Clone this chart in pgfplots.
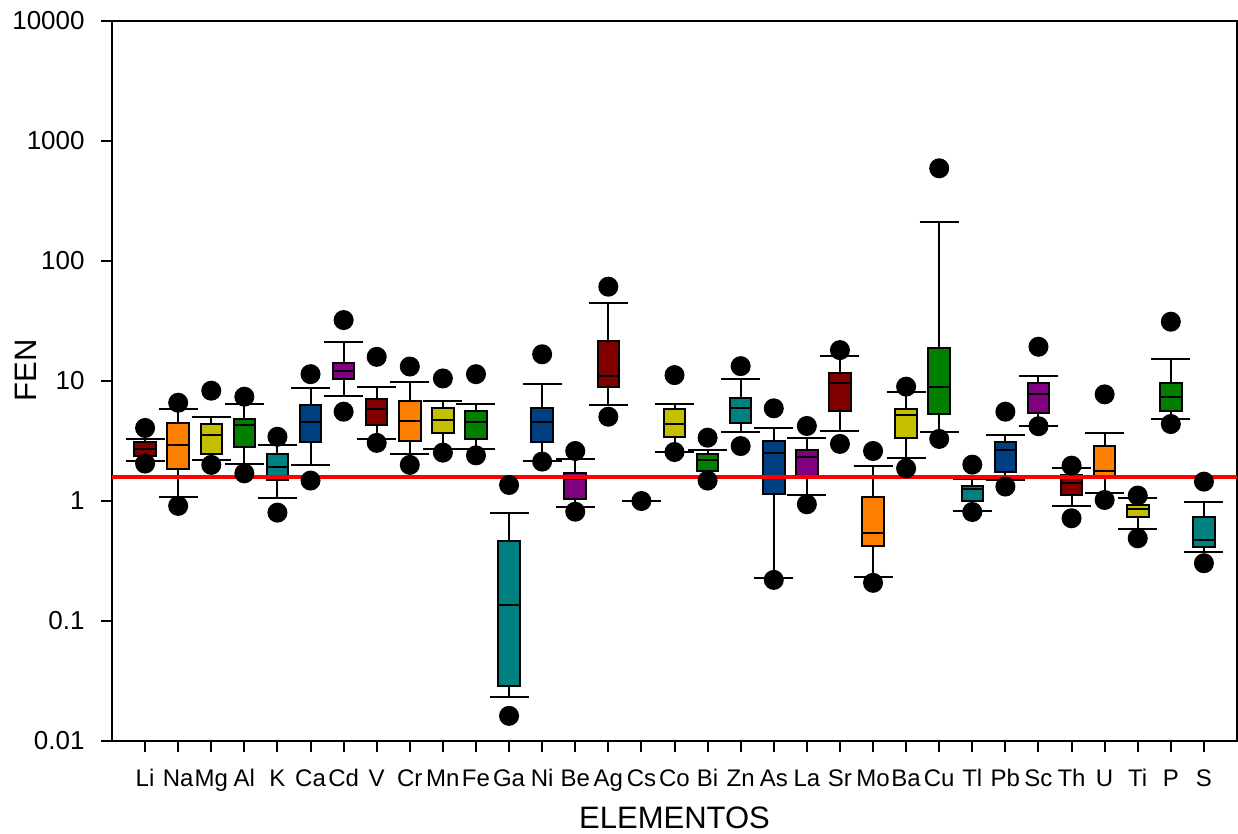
\documentclass[border=0pt]{standalone}
\usepackage{pgfplots}
\pgfplotsset{compat=1.18}
\usepgfplotslibrary{statistics}
\usepackage{fontspec}
\setmainfont{Liberation Sans}
\definecolor{cdr}{HTML}{800000}
\definecolor{cor}{HTML}{FF8000}
\definecolor{cye}{HTML}{C4C000}
\definecolor{cgr}{HTML}{008000}
\definecolor{ctl}{HTML}{008080}
\definecolor{cbl}{HTML}{004080}
\definecolor{cpu}{HTML}{800080}
\pgfplotsset{
  mybox/.style={draw=black, line width=1bp, fill=#1, solid,
    mark=*, mark size=4.5bp, mark options={fill=black, draw=black, solid},
    boxplot/every whisker/.style={black, line width=1bp},
    boxplot/every median/.style={black, line width=1bp},
    boxplot/every box/.style={draw=black, line width=1bp, fill=#1}},
  bp/.style={boxplot prepared={#1, draw direction=y, box extend=0.65, whisker extend=1.18}},
}
\begin{document}
\begin{tikzpicture}
\path[use as bounding box] (-56bp,-46.5bp) rectangle (563bp,370.5bp);
\begin{axis}[
  at={(0,0)}, anchor=south west,
  scale only axis, width=562.5bp, height=360bp,
  xmin=0, xmax=34, ymin=0.01, ymax=10000,
  ymode=log,
  axis line style={line width=1bp},
  major tick style={line width=1bp, black},
  major tick length=5.5bp,
  minor tick length=0pt,
  tick align=outside,
  xtick pos=bottom, ytick pos=left,
  xtick={1,...,33},
  xticklabels={Li,Na,Mg,Al,K,Ca,Cd,V,Cr,Mn,Fe,Ga,Ni,Be,Ag,Cs,Co,Bi,Zn,As,La,Sr,Mo,Ba,Cu,Tl,Pb,Sc,Th,U,Ti,P,S},
  ytick={0.01,0.1,1,10,100,1000,10000},
  yticklabels={0.01,0.1,1,10,100,1000,10000},
  ticklabel style={font=\fontsize{12bp}{14bp}\selectfont},
  yticklabel style={font=\fontsize{13bp}{15bp}\selectfont, inner sep=0pt, anchor=east, xshift=-8bp},
  xticklabel style={inner sep=0pt, anchor=base, yshift=-17.5bp},
  label style={font=\fontsize{15.5bp}{18bp}\selectfont},
  xlabel={ELEMENTOS}, ylabel={FEN},
  xlabel style={at={(axis description cs:0.5,-0.12083)}, anchor=base, inner sep=0pt},
  ylabel style={at={(axis description cs:-0.0764,0.515)}, anchor=center},
  clip=false,
]
\addplot[mybox=cdr, bp={draw position=1, lower whisker=2.17, lower quartile=2.37, median=2.71, upper quartile=3.12, upper whisker=3.29}] table[row sep=\\,y index=0]{v\\ 4.06\\ 2.05\\};
\addplot[mybox=cor, bp={draw position=2, lower whisker=1.09, lower quartile=1.84, median=2.91, upper quartile=4.44, upper whisker=5.84}] table[row sep=\\,y index=0]{v\\ 6.59\\ 0.91\\};
\addplot[mybox=cye, bp={draw position=3, lower whisker=2.20, lower quartile=2.46, median=3.55, upper quartile=4.36, upper whisker=4.98}] table[row sep=\\,y index=0]{v\\ 8.30\\ 2.00\\};
\addplot[mybox=cgr, bp={draw position=4, lower whisker=2.03, lower quartile=2.80, median=4.27, upper quartile=4.82, upper whisker=6.43}] table[row sep=\\,y index=0]{v\\ 7.40\\ 1.70\\};
\addplot[mybox=ctl, bp={draw position=5, lower whisker=1.065, lower quartile=1.50, median=1.91, upper quartile=2.45, upper whisker=2.91}] table[row sep=\\,y index=0]{v\\ 3.43\\ 0.80\\};
\addplot[mybox=cbl, bp={draw position=6, lower whisker=1.98, lower quartile=3.12, median=4.53, upper quartile=6.31, upper whisker=8.79}] table[row sep=\\,y index=0]{v\\ 11.4\\ 1.48\\};
\addplot[mybox=cpu, bp={draw position=7, lower whisker=7.50, lower quartile=10.3, median=12.2, upper quartile=14.2, upper whisker=21.1}] table[row sep=\\,y index=0]{v\\ 32.2\\ 5.55\\};
\addplot[mybox=cdr, bp={draw position=8, lower whisker=3.27, lower quartile=4.30, median=5.84, upper quartile=7.08, upper whisker=8.97}] table[row sep=\\,y index=0]{v\\ 15.9\\ 3.05\\};
\addplot[mybox=cor, bp={draw position=9, lower whisker=2.45, lower quartile=3.16, median=4.67, upper quartile=6.81, upper whisker=9.75}] table[row sep=\\,y index=0]{v\\ 13.2\\ 2.00\\};
\addplot[mybox=cye, bp={draw position=10, lower whisker=2.73, lower quartile=3.71, median=4.73, upper quartile=5.92, upper whisker=6.85}] table[row sep=\\,y index=0]{v\\ 10.5\\ 2.53\\};
\addplot[mybox=cgr, bp={draw position=11, lower whisker=2.73, lower quartile=3.31, median=4.53, upper quartile=5.66, upper whisker=6.39}] table[row sep=\\,y index=0]{v\\ 11.4\\ 2.40\\};
\addplot[mybox=ctl, bp={draw position=12, lower whisker=0.0233, lower quartile=0.0289, median=0.135, upper quartile=0.464, upper whisker=0.80}] table[row sep=\\,y index=0]{v\\ 1.36\\ 0.0162\\};
\addplot[mybox=cbl, bp={draw position=13, lower whisker=2.17, lower quartile=3.08, median=4.58, upper quartile=5.99, upper whisker=9.39}] table[row sep=\\,y index=0]{v\\ 16.7\\ 2.13\\};
\addplot[mybox=cpu, bp={draw position=14, lower whisker=0.897, lower quartile=1.03, median=1.53, upper quartile=1.72, upper whisker=2.23}] table[row sep=\\,y index=0]{v\\ 2.61\\ 0.814\\};
\addplot[mybox=cdr, bp={draw position=15, lower whisker=6.27, lower quartile=8.97, median=11.0, upper quartile=21.5, upper whisker=44.9}] table[row sep=\\,y index=0]{v\\ 61.1\\ 5.04\\};
\addplot[mybox=cor, bp={draw position=16, lower whisker=1.0, lower quartile=1.0, median=1.0, upper quartile=1.0, upper whisker=1.0}] table[row sep=\\,y index=0]{v\\ 1.0\\};
\addplot[mybox=cye, bp={draw position=17, lower whisker=2.58, lower quartile=3.40, median=4.38, upper quartile=5.84, upper whisker=6.43}] table[row sep=\\,y index=0]{v\\ 11.2\\ 2.56\\};
\addplot[mybox=cgr, bp={draw position=18, lower whisker=1.59, lower quartile=1.78, median=2.20, upper quartile=2.45, upper whisker=2.66}] table[row sep=\\,y index=0]{v\\ 3.37\\ 1.48\\};
\addplot[mybox=ctl, bp={draw position=19, lower whisker=3.74, lower quartile=4.44, median=5.92, upper quartile=7.17, upper whisker=10.4}] table[row sep=\\,y index=0]{v\\ 13.3\\ 2.87\\};
\addplot[mybox=cbl, bp={draw position=20, lower whisker=0.228, lower quartile=1.15, median=2.53, upper quartile=3.16, upper whisker=4.08}] table[row sep=\\,y index=0]{v\\ 5.92\\ 0.22\\};
\addplot[mybox=cpu, bp={draw position=21, lower whisker=1.12, lower quartile=1.56, median=2.34, upper quartile=2.66, upper whisker=3.37}] table[row sep=\\,y index=0]{v\\ 4.22\\ 0.939\\};
\addplot[mybox=cdr, bp={draw position=22, lower whisker=3.83, lower quartile=5.66, median=9.68, upper quartile=11.6, upper whisker=16.2}] table[row sep=\\,y index=0]{v\\ 18.1\\ 2.99\\};
\addplot[mybox=cor, bp={draw position=23, lower whisker=0.231, lower quartile=0.422, median=0.538, upper quartile=1.09, upper whisker=1.97}] table[row sep=\\,y index=0]{v\\ 2.61\\ 0.208\\};
\addplot[mybox=cye, bp={draw position=24, lower whisker=2.30, lower quartile=3.33, median=5.21, upper quartile=5.84, upper whisker=8.05}] table[row sep=\\,y index=0]{v\\ 8.97\\ 1.87\\};
\addplot[mybox=cgr, bp={draw position=25, lower whisker=3.78, lower quartile=5.28, median=8.97, upper quartile=18.7, upper whisker=210}] table[row sep=\\,y index=0]{v\\ 592\\ 3.29\\};
\addplot[mybox=ctl, bp={draw position=26, lower whisker=0.83, lower quartile=1.00, median=1.25, upper quartile=1.34, upper whisker=1.52}] table[row sep=\\,y index=0]{v\\ 2.01\\ 0.81\\};
\addplot[mybox=cbl, bp={draw position=27, lower whisker=1.50, lower quartile=1.73, median=2.66, upper quartile=3.08, upper whisker=3.55}] table[row sep=\\,y index=0]{v\\ 5.55\\ 1.32\\};
\addplot[mybox=cpu, bp={draw position=28, lower whisker=4.22, lower quartile=5.38, median=7.74, upper quartile=9.57, upper whisker=11.0}] table[row sep=\\,y index=0]{v\\ 19.3\\ 4.20\\};
\addplot[mybox=cdr, bp={draw position=29, lower whisker=0.914, lower quartile=1.12, median=1.40, upper quartile=1.65, upper whisker=1.89}] table[row sep=\\,y index=0]{v\\ 1.97\\ 0.718\\};
\addplot[mybox=cor, bp={draw position=30, lower whisker=1.16, lower quartile=1.59, median=1.78, upper quartile=2.87, upper whisker=3.66}] table[row sep=\\,y index=0]{v\\ 7.74\\ 1.02\\};
\addplot[mybox=cye, bp={draw position=31, lower whisker=0.581, lower quartile=0.731, median=0.858, upper quartile=0.925, upper whisker=1.05}] table[row sep=\\,y index=0]{v\\ 1.11\\ 0.489\\};
\addplot[mybox=cgr, bp={draw position=32, lower whisker=4.80, lower quartile=5.62, median=7.40, upper quartile=9.57, upper whisker=15.2}] table[row sep=\\,y index=0]{v\\ 31.2\\ 4.38\\};
\addplot[mybox=ctl, bp={draw position=33, lower whisker=0.374, lower quartile=0.411, median=0.473, upper quartile=0.731, upper whisker=0.975}] table[row sep=\\,y index=0]{v\\ 1.45\\ 0.303\\};
\addplot[red, line width=2bp, no marks] coordinates {(0,1.6) (34,1.6)};
\end{axis}
\end{tikzpicture}
\end{document}
